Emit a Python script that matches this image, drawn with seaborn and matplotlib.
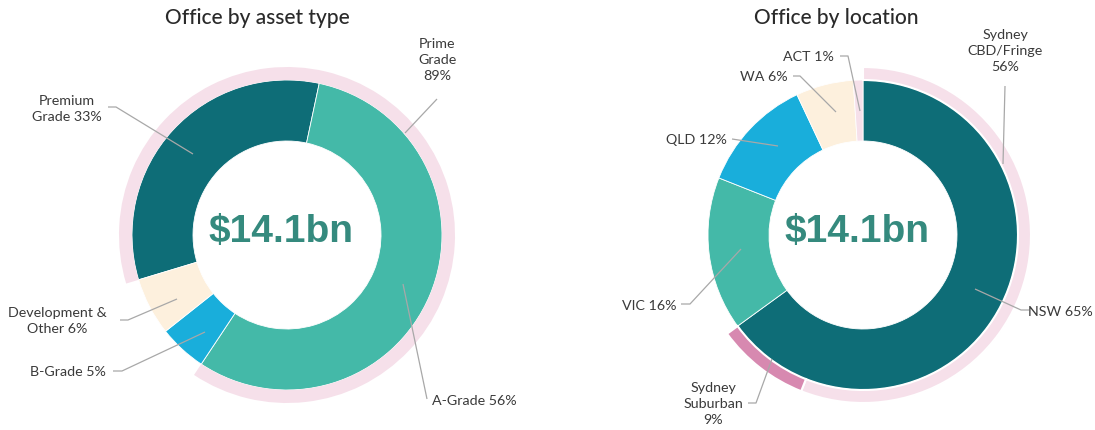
import matplotlib
matplotlib.use("Agg")
import matplotlib.pyplot as plt
import seaborn as sns

sns.set_theme(style="white")
plt.rcParams['font.family'] = ['Lato', 'DejaVu Sans']

# ---------------- data ----------------
asset_labels = ["Premium\nGrade 33%", "A-Grade 56%", "B-Grade 5%", "Development &\nOther 6%"]
asset_values = [33, 56, 5, 6]
prime_labels = ["Prime\nGrade\n89%", ""]
prime_values = [89, 11]

loc_labels = ["NSW 65%", "VIC 16%", "QLD 12%", "WA 6%", "ACT 1%"]
loc_values = [65, 16, 12, 6, 1]
syd_labels = ["Sydney\nCBD/Fringe\n56%", "Sydney\nSuburban\n9%", ""]
syd_values = [56, 9, 35]

total_text = "$14.1bn"
titles = ["Office by asset type", "Office by location"]

# ---------------- colours ----------------
DARK = "#0e6d77"
GREEN = "#44b9a8"
BLUE = "#19aedb"
CREAM = "#fdf0dd"
PINK_L = "#f6e0ea"
PINK_D = "#d789b0"
TXT = "#3a3a3a"
LINE = "#a8a8a8"

W, H = 1095, 431
fig = plt.figure(figsize=(W / 100, H / 100), dpi=100)
ax = fig.add_axes([0, 0, 1, 1])

def Y(y):
    return H - y

R_IN, HOLE, R_OUT = 155, 94, 168

# ---------- left donut ----------
cL = (287, Y(236))
ax.pie(asset_values, colors=[DARK, GREEN, BLUE, CREAM], startangle=90 - 253.2,
       counterclock=False, radius=R_IN, center=cL,
       wedgeprops=dict(width=R_IN - HOLE, edgecolor='white', linewidth=0.6))
w, _ = ax.pie(prime_values, colors=[PINK_L, 'white'], startangle=90 - 253.2,
              counterclock=False, radius=R_OUT, center=cL,
              wedgeprops=dict(width=R_OUT - R_IN, edgecolor='none'))
w[1].set_visible(False)

# ---------- right donut ----------
cR = (863, Y(236))
ax.pie(loc_values, colors=[DARK, GREEN, BLUE, CREAM, PINK_L], startangle=90,
       counterclock=False, radius=R_IN, center=cR,
       wedgeprops=dict(width=R_IN - HOLE, edgecolor='white', linewidth=0.6))
w, _ = ax.pie(syd_values, colors=[PINK_L, PINK_D, 'white'], startangle=90,
              counterclock=False, radius=R_OUT, center=cR,
              wedgeprops=dict(width=R_OUT - R_IN, edgecolor='white', linewidth=1.5))
w[2].set_visible(False)
ax.set_xlim(0, W)
ax.set_ylim(0, H)
ax.set_aspect('equal')
ax.axis('off')

# ---------- center texts & titles ----------
for c in (cL, cR):
    ax.text(c[0] - 6, c[1] + 4, total_text, ha='center', va='center',
            fontsize=28, fontweight='bold', color="#358a7e",
            family=['Liberation Sans', 'DejaVu Sans'])
ax.text(257, Y(18), titles[0], ha='center', va='center', fontsize=15,
        color="#2a2a2a", fontweight='medium')
ax.text(836, Y(18), titles[1], ha='center', va='center', fontsize=15,
        color="#2a2a2a", fontweight='medium')

# ---------- labels with leader lines ----------
def label(text, tx, ty, ha, pts):
    ax.text(tx, Y(ty), text, ha=ha, va='center', fontsize=10.3, color=TXT,
            linespacing=1.38, multialignment='center')
    xs = [p[0] for p in pts]
    ys = [Y(p[1]) for p in pts]
    ax.plot(xs, ys, color=LINE, lw=0.9, solid_capstyle='butt')

# left
label(prime_labels[0], 437, 60, 'center', [(437, 100), (405, 134)])
label(asset_labels[0], 67, 109, 'center', [(108, 108), (116, 108), (193, 155)])
label(asset_labels[3], 57, 321, 'center', [(120, 321), (128, 321), (177, 300)])
label(asset_labels[2], 106, 372, 'right', [(113, 372), (122, 372), (205, 333)])
label(asset_labels[1], 432, 401, 'left', [(427, 400), (403, 285)])

# right
label(syd_labels[0], 1005, 51, 'center', [(1005, 87), (1003, 165)])
label(loc_labels[4], 834, 57, 'right', [(840, 57), (848, 57), (860, 112)])
label(loc_labels[3], 788, 77, 'right', [(793, 77), (800, 77), (836, 113)])
label(loc_labels[2], 727, 140, 'right', [(732, 140), (778, 147)])
label(loc_labels[1], 676, 306, 'right', [(681, 305), (690, 305), (741, 250)])
label(loc_labels[0], 1093, 312, 'right', [(1029, 311), (1021, 311), (975, 290)])
label(syd_labels[1], 713, 404, 'center', [(748, 404), (756, 404), (772, 360)])

fig.savefig("out.png", dpi=100)
